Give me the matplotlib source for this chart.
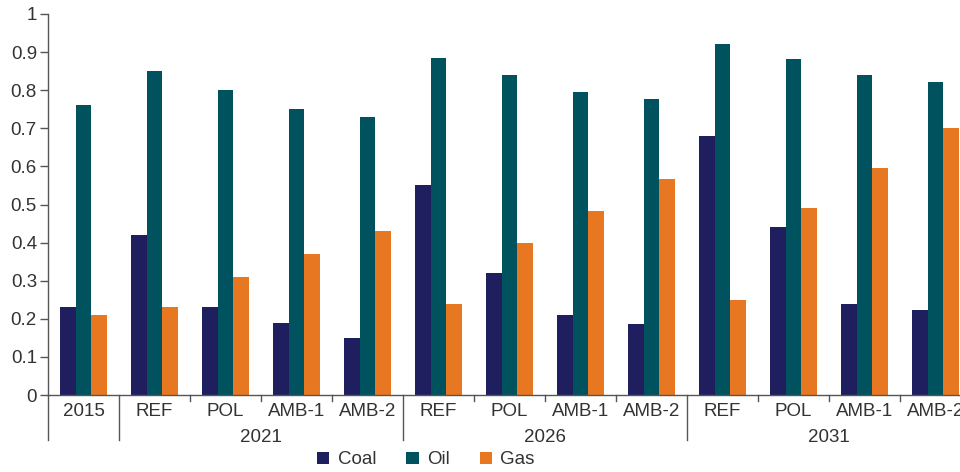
import matplotlib
matplotlib.use("Agg")
import matplotlib.pyplot as plt
from matplotlib.patches import Patch
import matplotlib.transforms as mtransforms

plt.rcParams['font.family'] = ['Liberation Sans Narrow', 'Liberation Sans', 'DejaVu Sans']

categories = ["2015", "REF", "POL", "AMB-1", "AMB-2", "REF", "POL", "AMB-1", "AMB-2",
              "REF", "POL", "AMB-1", "AMB-2"]
years = ["2021", "2026", "2031"]
coal = [0.23, 0.42, 0.23, 0.19, 0.15, 0.55, 0.32, 0.21, 0.186, 0.68, 0.44, 0.24, 0.222]
oil = [0.76, 0.85, 0.80, 0.75, 0.73, 0.885, 0.84, 0.795, 0.776, 0.922, 0.881, 0.84, 0.822]
gas = [0.21, 0.23, 0.31, 0.37, 0.43, 0.24, 0.40, 0.484, 0.567, 0.25, 0.491, 0.595, 0.70]
series_names = ["Coal", "Oil", "Gas"]
colors = ["#1f1f60", "#00525e", "#e87722"]

W, H = 960, 472
fig = plt.figure(figsize=(W / 100, H / 100), dpi=100)
left_px, right_px, y0_px, y1_px = 48, 971, 395, 14
ax = fig.add_axes([left_px / W, (H - y0_px) / H, (right_px - left_px) / W, (y0_px - y1_px) / H])

n = len(categories)
x = list(range(n))
bw = 0.22
for k, (vals, c) in enumerate(zip([coal, oil, gas], colors)):
    ax.bar([xi + (k - 1) * bw for xi in x], vals, width=bw, color=c, edgecolor='none', zorder=2)

ax.set_xlim(-0.5, n - 0.5)
ax.set_ylim(0, 1)
ax.set_yticks([i / 10 for i in range(11)])
ax.set_yticklabels(["0"] + [f"0.{i}" for i in range(1, 10)] + ["1"])
ax.tick_params(axis='y', direction='out', length=6, width=1, color='#555555',
               labelsize=13.5, labelcolor='#333333', pad=2)
ax.set_xticks([])
for s in ['top', 'right']:
    ax.spines[s].set_visible(False)
ax.spines['left'].set_color('#555555')
ax.spines['bottom'].set_color('#555555')
ax.spines['left'].set_linewidth(1)
ax.spines['bottom'].set_linewidth(1)

px = 1 / (y0_px - y1_px)  # one pixel in axes-fraction units (y)
trans = mtransforms.blended_transform_factory(ax.transData, ax.transAxes)

# category labels
for xi, lab in zip(x, categories):
    ax.text(xi, -17 * px, lab, transform=trans, ha='center', va='center',
            fontsize=13.5, color='#333333')

# separators
long_seps = [-0.5, 0.5, 4.5, 8.5]
for b in range(n + 1):
    xb = b - 0.5
    if xb in long_seps:
        ax.plot([xb, xb], [0, -45 * px], transform=trans, color='#555555', lw=1, clip_on=False)
    else:
        ax.plot([xb, xb], [0, -6 * px], transform=trans, color='#555555', lw=1, clip_on=False)

# year labels
for yi, yr in enumerate(years):
    center = 1 + 4 * yi + 1.5
    ax.text(center, -42 * px, yr, transform=trans, ha='center', va='center',
            fontsize=13.5, color='#333333')

handles = [Patch(facecolor=c, edgecolor='none', label=nm) for c, nm in zip(colors, series_names)]
fig.legend(handles=handles, loc='center', bbox_to_anchor=(426 / W, (H - 460) / H), ncol=3,
           frameon=False, fontsize=13.5, handlelength=0.65, handleheight=0.65,
           handletextpad=0.45, columnspacing=1.6, labelcolor='#333333',
           borderpad=0, borderaxespad=0)

fig.savefig("out.png", dpi=100)
